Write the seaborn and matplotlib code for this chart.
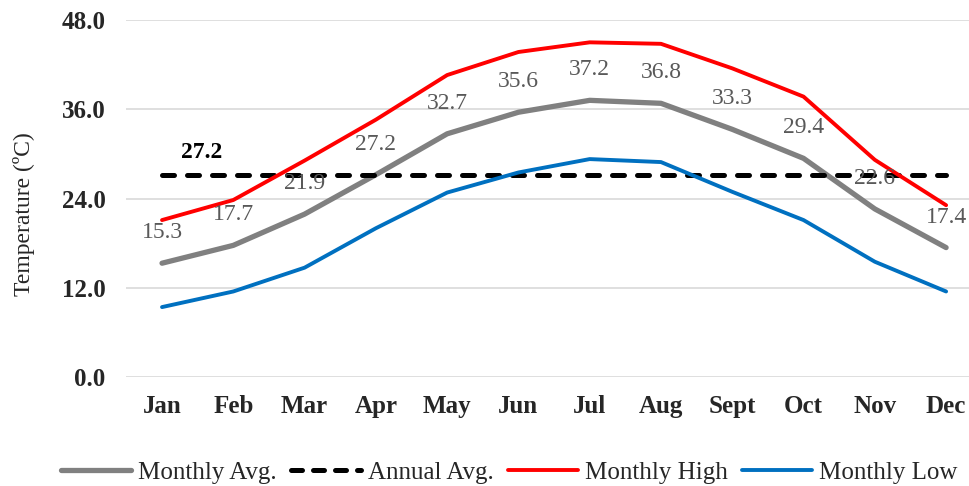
import matplotlib
matplotlib.use("Agg")
import matplotlib.pyplot as plt
from matplotlib.lines import Line2D
import seaborn as sns
import pandas as pd

months = ["Jan", "Feb", "Mar", "Apr", "May", "Jun", "Jul", "Aug", "Sept", "Oct", "Nov", "Dec"]
monthly_avg = [15.3, 17.7, 21.9, 27.2, 32.7, 35.6, 37.2, 36.8, 33.3, 29.4, 22.6, 17.4]
monthly_high = [21.1, 23.8, 29.1, 34.6, 40.6, 43.7, 45.0, 44.8, 41.5, 37.7, 29.2, 23.1]
monthly_low = [9.4, 11.5, 14.7, 20.0, 24.8, 27.5, 29.3, 28.9, 24.9, 21.1, 15.5, 11.5]
annual_avg = 27.2
y_ticks = [0.0, 12.0, 24.0, 36.0, 48.0]

sns.set_theme(style="white")
plt.rcParams["font.family"] = ["Liberation Serif", "DejaVu Serif"]

df = pd.DataFrame({
    "x": list(range(len(months))),
    "avg": monthly_avg,
    "high": monthly_high,
    "low": monthly_low,
    "annual": [annual_avg] * len(months),
})

GRAY = "#808080"
RED = "#FF0000"
BLUE = "#0070C0"
LABEL_GRAY = "#595959"

fig = plt.figure(figsize=(9.7, 4.86), dpi=100)
ax = fig.add_axes([0.1303, 0.2243, 0.8818, 0.7345])

for y in y_ticks:
    ax.axhline(y, color="#d9d9d9", lw=1.2, zorder=0)

sns.lineplot(data=df, x="x", y="avg", ax=ax, color=GRAY, lw=3.8, zorder=3)
sns.lineplot(data=df, x="x", y="annual", ax=ax, color="black", lw=3.6, zorder=4)
ax.lines[-1].set_dashes([2.4, 2.6])
ax.lines[-1].set_dash_capstyle("round")
sns.lineplot(data=df, x="x", y="high", ax=ax, color=RED, lw=2.8, zorder=5)
sns.lineplot(data=df, x="x", y="low", ax=ax, color=BLUE, lw=2.8, zorder=5)

for i, v in enumerate(monthly_avg):
    ax.annotate(f"{v:.1f}", (i, v), xytext=(0, 22), textcoords="offset points",
                ha="center", va="center", fontsize=17, color=LABEL_GRAY, zorder=6)

ax.annotate(f"{annual_avg:.1f}", (0.55, annual_avg), xytext=(0, 16),
            textcoords="offset points", ha="center", va="center",
            fontsize=17, fontweight="bold", color="black", zorder=6)

ax.set_xlim(-0.5, len(months) - 0.5)
ax.set_ylim(0, 48)
ax.set_xticks(range(len(months)))
ax.set_xticklabels(months, fontsize=18, fontweight="bold")
ax.set_yticks(y_ticks)
ax.set_yticklabels([f"{t:.1f}" for t in y_ticks], fontsize=18, fontweight="bold")
ax.tick_params(axis="y", pad=15, length=0)
ax.tick_params(axis="x", pad=13, length=0)
ax.set_xlabel("")
ax.set_ylabel("Temperature (ºC)", fontsize=17)
ax.yaxis.set_label_coords(-0.107, 0.457)
for s in ax.spines.values():
    s.set_visible(False)

handles = [
    Line2D([], [], color=GRAY, lw=3.8),
    Line2D([], [], color="black", lw=3.6, dashes=[2.2, 2.2], dash_capstyle="round"),
    Line2D([], [], color=RED, lw=2.8),
    Line2D([], [], color=BLUE, lw=2.8),
]
labels = ["Monthly Avg.", "Annual Avg.", "Monthly High", "Monthly Low"]
fig.legend(handles, labels, loc="center", bbox_to_anchor=(0.525, 0.027), ncol=4,
           frameon=False, fontsize=18, handlelength=2.8, handletextpad=0.25,
           columnspacing=0.6)

fig.savefig("out.png", dpi=100)
